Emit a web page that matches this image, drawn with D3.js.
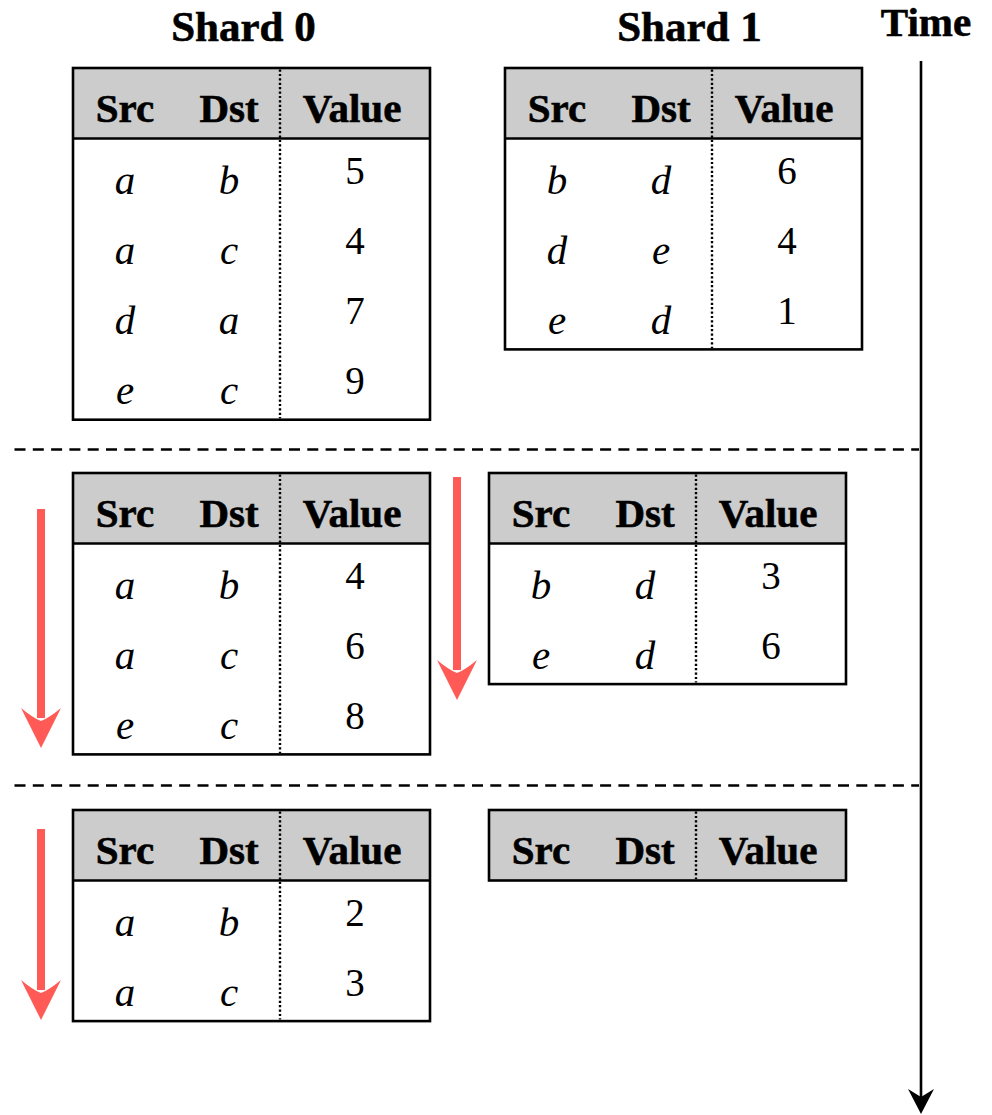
<!DOCTYPE html>
<html>
<head>
<meta charset="utf-8">
<script src="https://cdn.jsdelivr.net/npm/d3@7"></script>
<style>
  html, body { margin: 0; padding: 0; background: #ffffff; }
  svg { display: block; }
</style>
</head>
<body>
<div id="chart"></div>
<script>
// ---------------- data ----------------
const shardTitles = ["Shard 0", "Shard 1"];
const headers = ["Src", "Dst", "Value"];
const axisLabel = "Time";

const step0Shard0 = [["a", "b", 5], ["a", "c", 4], ["d", "a", 7], ["e", "c", 9]];
const step0Shard1 = [["b", "d", 6], ["d", "e", 4], ["e", "d", 1]];
const step1Shard0 = [["a", "b", 4], ["a", "c", 6], ["e", "c", 8]];
const step1Shard1 = [["b", "d", 3], ["e", "d", 6]];
const step2Shard0 = [["a", "b", 2], ["a", "c", 3]];
const step2Shard1 = [];

const steps = [0, 1, 2];
const stepTables = [
  [step0Shard0, step0Shard1],
  [step1Shard0, step1Shard1],
  [step2Shard0, step2Shard1]
];
// which (step, shard) get a red "update" arrow
const arrowSteps = [1, 1, 2];
const arrowShards = [0, 1, 0];

// ---------------- layout ----------------
const W = 992, H = 1115;
const svg = d3.select("#chart").append("svg")
  .attr("width", W).attr("height", H)
  .attr("viewBox", `0 0 ${W} ${H}`);

const serif = "'Liberation Serif', 'DejaVu Serif', serif";
const red = "#ff5a55";

const tableW = 357, headerH = 70.5, rowH = 70.3;
const colX = d3.scaleOrdinal().domain(headers).range([52, 156, 282]);
const dividerX = 207;
const tableXs = [[73, 505], [73, 489], [73, 489]];
const stepY = d3.scaleOrdinal().domain(steps).range([68, 473, 810]);
const separatorsY = [449.5, 785.5];

// titles
const titleX = [243.5, 689.5];
svg.selectAll("text.title").data(shardTitles).join("text")
  .attr("class", "title")
  .attr("x", (d, i) => titleX[i]).attr("y", 41)
  .attr("text-anchor", "middle")
  .attr("font-family", serif).attr("font-weight", "bold").attr("font-size", 43)
  .attr("stroke", "#000").attr("stroke-width", 0.6)
  .attr("fill", "#000").text(d => d);

svg.append("text")
  .attr("x", 926).attr("y", 36)
  .attr("text-anchor", "middle")
  .attr("font-family", serif).attr("font-weight", "bold").attr("font-size", 41)
  .attr("stroke", "#000").attr("stroke-width", 0.6)
  .attr("fill", "#000").text(axisLabel);

// separators
svg.selectAll("line.sep").data(separatorsY).join("line")
  .attr("class", "sep")
  .attr("x1", 14.5).attr("x2", 919).attr("y1", d => d).attr("y2", d => d)
  .attr("stroke", "#000").attr("stroke-width", 2.6)
  .attr("stroke-dasharray", "11,7.3");

// time axis
svg.append("line")
  .attr("x1", 921).attr("x2", 921).attr("y1", 61).attr("y2", 1100)
  .attr("stroke", "#000").attr("stroke-width", 2.6);
svg.append("path")
  .attr("d", d3.line()([[908, 1089], [921, 1097], [934, 1089], [921, 1114]]))
  .attr("fill", "#000");

// tables
steps.forEach(s => {
  stepTables[s].forEach((rows, shard) => {
    const x0 = tableXs[s][shard];
    const y0 = stepY(s);
    const h = headerH + rows.length * rowH;
    const g = svg.append("g").attr("transform", `translate(${x0},${y0})`);

    g.append("rect").attr("x", 0).attr("y", 0)
      .attr("width", tableW).attr("height", headerH)
      .attr("fill", "#cccccc");

    if (rows.length) {
      g.append("line").attr("x1", 0).attr("x2", tableW)
        .attr("y1", headerH).attr("y2", headerH)
        .attr("stroke", "#000").attr("stroke-width", 2.6);
    }

    g.append("line").attr("x1", dividerX).attr("x2", dividerX)
      .attr("y1", 1.5).attr("y2", h - 1.5)
      .attr("stroke", "#000").attr("stroke-width", 2.4)
      .attr("stroke-dasharray", "2.2,2.2");

    g.append("rect").attr("x", 0).attr("y", 0)
      .attr("width", tableW).attr("height", h)
      .attr("fill", "none").attr("stroke", "#000").attr("stroke-width", 2.6);

    g.selectAll("text.hdr").data(headers).join("text")
      .attr("class", "hdr")
      .attr("x", d => colX(d) - (d === "Value" ? 3 : 0)).attr("y", 54)
      .attr("text-anchor", "middle")
      .attr("font-family", serif).attr("font-weight", "bold").attr("font-size", 41)
      .attr("stroke", "#000").attr("stroke-width", 0.6)
      .attr("fill", "#000").text(d => d);

    const rg = g.selectAll("g.row").data(rows).join("g")
      .attr("class", "row")
      .attr("transform", (d, i) => `translate(0,${headerH + i * rowH})`);

    rg.selectAll("text.cell").data(d => d.map((v, j) => ({ v, col: headers[j] }))).join("text")
      .attr("class", "cell")
      .attr("x", d => colX(d.col))
      .attr("y", d => d.col === "Value" ? 45 : 55)
      .attr("text-anchor", "middle")
      .attr("font-family", serif)
      .attr("font-style", d => d.col === "Value" ? "normal" : "italic")
      .attr("font-size", d => d.col === "Value" ? 39 : 41)
      .attr("fill", "#000").text(d => d.v);
  });
});

// red arrows
const arrowLayout = [
  { x: 41, y1: 509, y2: 748 },
  { x: 457, y1: 477, y2: 700 },
  { x: 41, y1: 829, y2: 1020 }
];
arrowSteps.forEach((s, i) => {
  const a = arrowLayout[i];
  svg.append("line")
    .attr("x1", a.x).attr("x2", a.x).attr("y1", a.y1).attr("y2", a.y2 - 30)
    .attr("stroke", red).attr("stroke-width", 8);
  svg.append("path")
    .attr("d", `M${a.x - 20},${a.y2 - 40} Q${a.x - 8},${a.y2 - 30} ${a.x},${a.y2 - 27} Q${a.x + 8},${a.y2 - 30} ${a.x + 20},${a.y2 - 40} L${a.x},${a.y2} Z`)
    .attr("fill", red);
});
</script>
</body>
</html>
